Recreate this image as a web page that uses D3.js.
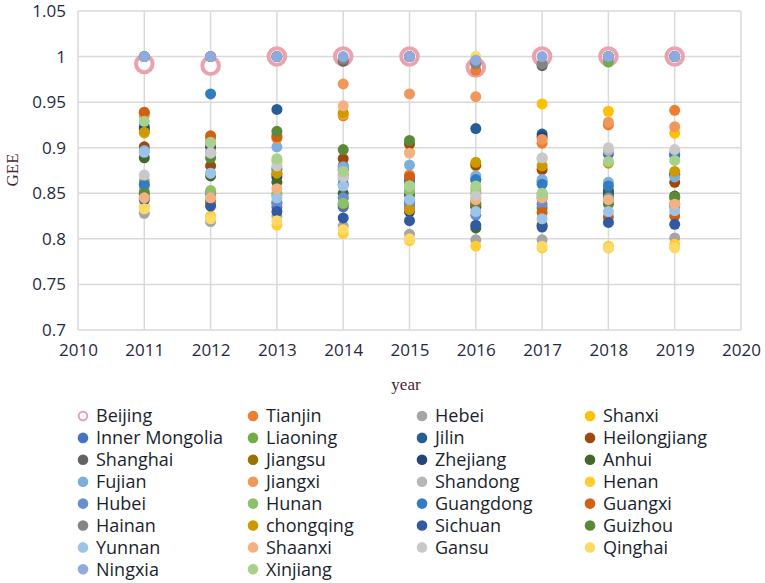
<!DOCTYPE html>
<html>
<head>
<meta charset="utf-8">
<script src="https://cdn.jsdelivr.net/npm/d3@7"></script>
<style>
  body { margin: 0; background: #fff; }
  svg text { font-family: "Segoe UI", "Open Sans", sans-serif; }
  .tick-label { font-size: 17px; fill: #1f2940; }
  .axis-title { font-family: "Liberation Serif", "DejaVu Serif", serif !important; font-size: 17px; fill: #4b2535; }
  .legend-label { font-size: 18px; fill: #1a1f2e; }
</style>
</head>
<body>
<div id="chart"></div>
<script>
// years on the x axis
var years = [2011, 2012, 2013, 2014, 2015, 2016, 2017, 2018, 2019];
var xTicks = [2010, 2011, 2012, 2013, 2014, 2015, 2016, 2017, 2018, 2019, 2020];
var yTicks = [0.7, 0.75, 0.8, 0.85, 0.9, 0.95, 1, 1.05];
var yTickLabels = ["0.7", "0.75", "0.8", "0.85", "0.9", "0.95", "1", "1.05"];

// provinces, in legend order
var provinces = ["Beijing", "Tianjin", "Hebei", "Shanxi", "Inner Mongolia", "Liaoning",
  "Jilin", "Heilongjiang", "Shanghai", "Jiangsu", "Zhejiang", "Anhui",
  "Fujian", "Jiangxi", "Shandong", "Henan", "Hubei", "Hunan",
  "Guangdong", "Guangxi", "Hainan", "chongqing", "Sichuan", "Guizhou",
  "Yunnan", "Shaanxi", "Gansu", "Qinghai", "Ningxia", "Xinjiang"];

var colors = ["#e9a3ae", "#ed7d31", "#a5a5a5", "#ffc000", "#4472c4", "#70ad47",
  "#255e91", "#9e480e", "#636363", "#997300", "#264478", "#43682b",
  "#7cafdd", "#f1975a", "#b7b7b7", "#ffcd33", "#698ed0", "#8cc168",
  "#327dc2", "#d26012", "#848484", "#cc9a00", "#335aa1", "#5a8a39",
  "#9dc3e6", "#f4b183", "#c9c9c9", "#ffd966", "#8faadc", "#a9d18e"];

// GEE by province, 2011..2019
var Beijing       = [0.992, 0.990, 1.000, 1.000, 1.000, 0.988, 1.000, 1.000, 1.000];
var Tianjin       = [0.938, 0.910, 0.914, 0.935, 0.870, 0.985, 0.905, 0.925, 0.941];
var Hebei         = [0.828, 0.819, 0.825, 0.814, 0.805, 0.799, 0.799, 0.790, 0.801];
var Shanxi        = [0.916, 0.850, 0.885, 0.937, 0.895, 0.880, 0.948, 0.940, 0.916];
var InnerMongolia = [0.845, 0.840, 0.835, 0.835, 0.840, 0.865, 0.863, 0.893, 0.892];
var Liaoning      = [0.852, 0.850, 0.848, 0.845, 0.852, 0.850, 0.848, 0.994, 0.845];
var Jilin         = [0.923, 0.895, 0.942, 0.880, 0.865, 0.921, 0.915, 0.853, 0.870];
var Heilongjiang  = [0.901, 0.880, 0.871, 0.888, 0.904, 0.881, 0.876, 0.845, 0.862];
var Shanghai      = [1.000, 1.000, 1.000, 0.995, 1.000, 0.993, 0.990, 1.000, 1.000];
var Jiangsu       = [0.848, 0.841, 0.840, 0.838, 0.835, 0.835, 0.834, 0.840, 0.838];
var Zhejiang      = [0.920, 0.901, 0.868, 0.876, 0.830, 0.836, 0.912, 0.850, 0.871];
var Anhui         = [0.889, 0.869, 0.862, 0.850, 0.848, 0.812, 0.815, 0.848, 0.847];
var Fujian        = [0.897, 0.872, 0.901, 0.879, 0.881, 0.869, 0.865, 0.862, 0.868];
var Jiangxi       = [0.935, 0.905, 0.910, 0.970, 0.959, 0.956, 0.909, 0.928, 0.923];
var Shandong      = [0.850, 0.895, 0.878, 0.866, 0.855, 0.845, 0.888, 0.897, 0.896];
var Henan         = [0.836, 0.825, 0.815, 0.806, 0.798, 0.792, 0.790, 0.792, 0.794];
var Hubei         = [0.858, 0.849, 0.839, 0.845, 0.835, 0.826, 0.838, 0.845, 0.835];
var Hunan         = [0.864, 0.853, 0.850, 0.839, 0.853, 0.855, 0.850, 0.840, 0.845];
var Guangdong     = [0.860, 0.959, 0.876, 0.860, 0.863, 0.865, 0.860, 0.858, 0.892];
var Guangxi       = [0.939, 0.913, 0.912, 0.870, 0.868, 0.838, 0.829, 0.824, 0.825];
var Hainan        = [1.000, 1.000, 1.000, 0.997, 1.000, 0.992, 0.992, 1.000, 1.000];
var Chongqing     = [0.917, 0.838, 0.872, 0.938, 0.832, 0.884, 0.880, 0.883, 0.874];
var Sichuan       = [0.843, 0.836, 0.830, 0.823, 0.820, 0.815, 0.813, 0.818, 0.816];
var Guizhou       = [0.850, 0.889, 0.918, 0.898, 0.908, 0.840, 0.845, 0.838, 0.846];
var Yunnan        = [0.895, 0.872, 0.845, 0.858, 0.843, 0.830, 0.822, 0.830, 0.831];
var Shaanxi       = [0.845, 0.845, 0.855, 0.946, 0.894, 0.843, 0.845, 0.843, 0.838];
var Gansu         = [0.870, 0.894, 0.880, 0.868, 0.858, 0.848, 0.889, 0.900, 0.898];
var Qinghai       = [0.833, 0.822, 0.820, 0.810, 0.800, 1.000, 0.792, 0.790, 0.790];
var Ningxia       = [1.000, 1.000, 1.000, 1.000, 1.000, 0.996, 1.000, 1.000, 1.000];
var Xinjiang      = [0.929, 0.906, 0.888, 0.874, 0.858, 0.858, 0.850, 0.885, 0.886];

var series = [Beijing, Tianjin, Hebei, Shanxi, InnerMongolia, Liaoning,
  Jilin, Heilongjiang, Shanghai, Jiangsu, Zhejiang, Anhui,
  Fujian, Jiangxi, Shandong, Henan, Hubei, Hunan,
  Guangdong, Guangxi, Hainan, Chongqing, Sichuan, Guizhou,
  Yunnan, Shaanxi, Gansu, Qinghai, Ningxia, Xinjiang];

var W = 765, H = 583;
var plot = {left: 78, right: 741, top: 11, bottom: 330};

var svg = d3.select("#chart").append("svg")
    .attr("width", W)
    .attr("height", H);

var x = d3.scaleLinear().domain([2010, 2020]).range([plot.left, plot.right]);
var y = d3.scaleLinear().domain([0.7, 1.05]).range([plot.bottom, plot.top]);

// gridlines (they also form the frame)
var grid = svg.append("g").attr("class", "grid");
grid.selectAll(".vgrid")
    .data(xTicks)
  .enter().append("line")
    .attr("x1", function(d) { return x(d); })
    .attr("x2", function(d) { return x(d); })
    .attr("y1", plot.top)
    .attr("y2", plot.bottom)
    .attr("stroke", "#d9d9d9")
    .attr("stroke-width", 1.5);
grid.selectAll(".hgrid")
    .data(yTicks)
  .enter().append("line")
    .attr("x1", plot.left)
    .attr("x2", plot.right)
    .attr("y1", function(d) { return y(d); })
    .attr("y2", function(d) { return y(d); })
    .attr("stroke", "#d9d9d9")
    .attr("stroke-width", 1.5);

// axes - d3 axes with domain and ticks hidden, labels kept
var xAxis = svg.append("g")
    .attr("transform", "translate(0," + plot.bottom + ")")
    .call(d3.axisBottom(x).tickValues(xTicks).tickFormat(d3.format("d")).tickSize(0).tickPadding(14));
var yAxis = svg.append("g")
    .attr("transform", "translate(" + plot.left + ",0)")
    .call(d3.axisLeft(y).tickValues(yTicks)
      .tickFormat(function(d, i) { return yTickLabels[i]; })
      .tickSize(0).tickPadding(12));
[xAxis, yAxis].forEach(function(a) {
  a.select(".domain").remove();
  a.selectAll("text")
    .attr("class", "tick-label")
    .attr("fill", null)
    .style("font-family", "'Segoe UI', 'Open Sans', sans-serif");
  a.attr("font-size", null).attr("font-family", null);
});

svg.append("text")
    .attr("class", "axis-title")
    .attr("transform", "translate(18,170) rotate(-90)")
    .style("text-anchor", "middle")
    .text("GEE");

svg.append("text")
    .attr("class", "axis-title")
    .attr("x", 406)
    .attr("y", 390)
    .style("text-anchor", "middle")
    .text("year");

// points, drawn in series order so later series sit on top
var marks = svg.append("g");
series.forEach(function(vals, si) {
  var pts = years.map(function(yr, i) { return {year: yr, v: vals[i]}; });
  var g = marks.append("g").attr("class", "series");
  if (si === 0) {
    g.selectAll("circle")
        .data(pts)
      .enter().append("circle")
        .attr("cx", function(d) { return x(d.year); })
        .attr("cy", function(d) { return y(d.v); })
        .attr("r", 8.3)
        .attr("fill", "#fff")
        .attr("stroke", colors[0])
        .attr("stroke-width", 4);
  } else {
    g.selectAll("circle")
        .data(pts)
      .enter().append("circle")
        .attr("cx", function(d) { return x(d.year); })
        .attr("cy", function(d) { return y(d.v); })
        .attr("r", 5.5)
        .attr("fill", colors[si]);
  }
});

// legend: 4 columns, row-major
var colX = [83, 253, 422, 590];
var legend = svg.append("g").attr("class", "legend");
var items = legend.selectAll(".item")
    .data(provinces)
  .enter().append("g")
    .attr("transform", function(d, i) {
      return "translate(" + colX[i % 4] + "," + (416 + Math.floor(i / 4) * 21.9) + ")";
    });
items.append("circle")
    .attr("r", function(d, i) { return i === 0 ? 4.3 : 5.3; })
    .attr("fill", function(d, i) { return i === 0 ? "#fff" : colors[i]; })
    .attr("stroke", function(d, i) { return i === 0 ? colors[0] : "none"; })
    .attr("stroke-width", 2);
items.append("text")
    .attr("class", "legend-label")
    .attr("x", 13)
    .attr("dy", "0.35em")
    .text(function(d) { return d; });
</script>
</body>
</html>
